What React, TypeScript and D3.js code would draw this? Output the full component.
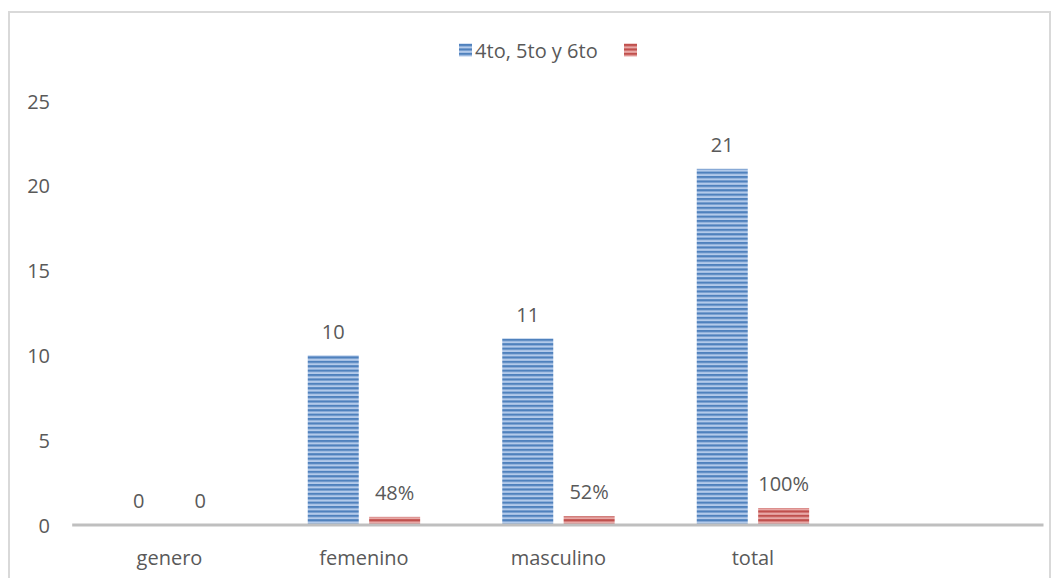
import React from "react";
import * as d3 from "d3";

const categories = ["genero", "femenino", "masculino", "total", ""];
const seriesA = [0, 10, 11, 21, null];
const seriesB = [0, 0.48, 0.52, 1, null];
const labelsA = ["0", "10", "11", "21", ""];
const labelsB = ["0", "48%", "52%", "100%", ""];
const yTicks = [0, 5, 10, 15, 20, 25];
const legendNames = ["4to, 5to y 6to", ""];

const W = 1059;
const H = 578;
const FONT = "'Open Sans', 'Noto Sans', sans-serif";
const TEXT = "#595959";

export default function App() {
  const x = d3.scaleBand<string>().domain(categories).range([72.2, 1044.7]).paddingInner(0).paddingOuter(0);
  const y = d3.scaleLinear().domain([0, 25]).range([525, 101]);
  const bw = x.bandwidth();
  const barW = (bw * 51) / 194.5;
  const barGap = (bw * 10.4) / 194.5;
  const groupW = barW * 2 + barGap;
  const off = (bw - groupW) / 2;
  const xA = (c: string) => (x(c) as number) + off;
  const xB = (c: string) => (x(c) as number) + off + barW + barGap;

  return (
    <svg width={W} height={H} style={{ position: "absolute", left: 0, top: 0, background: "#fff" }}>
      <defs>
        <pattern id="pBlue" patternUnits="userSpaceOnUse" width="10" height="4.4">
          <rect x="0" y="0" width="10" height="4.4" fill="#b3caea" />
          <rect x="0" y="0" width="10" height="2.2" fill="#4f81bd" />
        </pattern>
        <pattern id="pRed" patternUnits="userSpaceOnUse" width="10" height="4.4">
          <rect x="0" y="0" width="10" height="4.4" fill="#e8a9a7" />
          <rect x="0" y="0" width="10" height="2.2" fill="#c0504d" />
        </pattern>
      </defs>
      <rect x={9} y={12} width={1041} height={600} fill="#fff" stroke="#d9d9d9" strokeWidth={2} />

      {/* y tick labels */}
      {yTicks.map((t) => (
        <text key={t} x={50} y={y(t)} textAnchor="end" dominantBaseline="central" fontFamily={FONT} fontSize={20} fill={TEXT}>
          {t}
        </text>
      ))}

      {/* bars */}
      {categories.map((c, i) =>
        seriesA[i] == null ? null : (
          <g key={"a" + c}>
            {(seriesA[i] as number) > 0 && (
              <rect x={xA(c)} y={y(seriesA[i] as number)} width={barW} height={y(0) - y(seriesA[i] as number)} fill="url(#pBlue)" />
            )}
            {(seriesB[i] as number) > 0 && (
              <rect x={xB(c)} y={y(seriesB[i] as number)} width={barW} height={y(0) - y(seriesB[i] as number)} fill="url(#pRed)" />
            )}
          </g>
        )
      )}

      {/* axis line */}
      <line x1={x.range()[0]} x2={1043.5} y1={y(0)} y2={y(0)} stroke="#bfbfbf" strokeWidth={3} />

      {/* data labels */}
      {categories.map((c, i) =>
        seriesA[i] == null ? null : (
          <g key={"l" + c}>
            <text x={xA(c) + barW / 2} y={y(seriesA[i] as number) - 16.7} textAnchor="middle" fontFamily={FONT} fontSize={20} fill={TEXT}>
              {labelsA[i]}
            </text>
            <text x={xB(c) + barW / 2} y={y(seriesB[i] as number) - 16.7} textAnchor="middle" fontFamily={FONT} fontSize={20} fill={TEXT}>
              {labelsB[i]}
            </text>
          </g>
        )
      )}

      {/* category labels */}
      {categories.map((c) => (
        <text key={"c" + c} x={(x(c) as number) + bw / 2} y={565} textAnchor="middle" fontFamily={FONT} fontSize={20} fill={TEXT}>
          {c}
        </text>
      ))}

      {/* legend */}
      <rect x={459} y={43.5} width={13} height={13} fill="url(#pBlue)" />
      <text x={597.7} y={58} textAnchor="end" fontFamily={FONT} fontSize={20} fill={TEXT}>
        {legendNames[0]}
      </text>
      <rect x={624} y={43.5} width={13} height={13} fill="url(#pRed)" />
      <text x={642} y={58} fontFamily={FONT} fontSize={20} fill={TEXT}>
        {legendNames[1]}
      </text>
    </svg>
  );
}
